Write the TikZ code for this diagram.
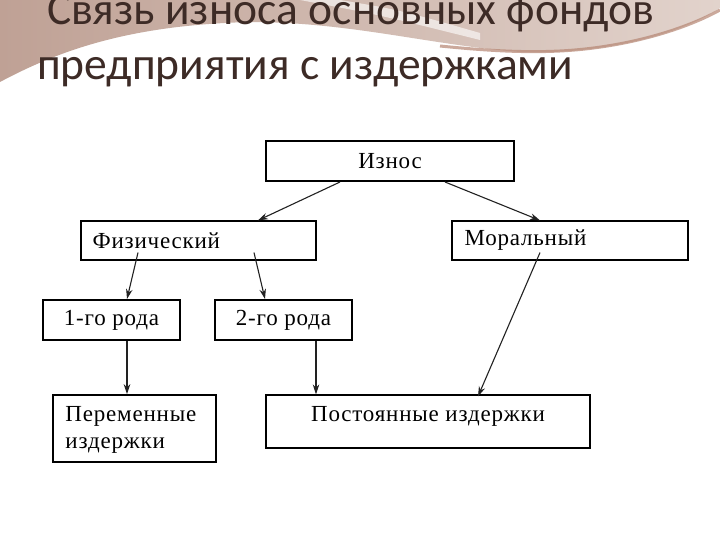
\documentclass[tikz,border=0pt]{standalone}
\usepackage{fontspec}
\setmainfont{Liberation Serif}
\newfontfamily\titlefont{Carlito}
\usetikzlibrary{arrows.meta}
\definecolor{titlecol}{HTML}{3D2B26}
\definecolor{decodark}{HTML}{BFA195}
\definecolor{decolight}{HTML}{E2D3CC}
\definecolor{decoline}{HTML}{B58572}
\definecolor{linecol}{HTML}{222222}
\tikzset{
  box/.style={draw=black, line width=1.2pt, fill=white, inner sep=0pt},
  thickbox/.style={box, line width=2pt},
  lbl/.style={inner sep=0pt, font=\fontsize{23}{27}\selectfont\addfontfeature{LetterSpace=3.5}, align=left},
  arr/.style={draw=linecol, line width=1.1pt, -{Stealth[length=10pt,width=6.5pt]}},
  ttl/.style={inner sep=0pt, anchor=base west, text=titlecol, font=\titlefont\fontsize{45.5}{53}\selectfont}
}
\begin{document}
\begin{tikzpicture}[x=1pt,y=-1pt]
\useasboundingbox (0,0) rectangle (720,540);
\fill[white] (0,0) rectangle (720,540);
% decoration
\shade[left color=decodark, right color=decolight]
  (0,0) -- (0,82) .. controls (60,50) and (130,25) .. (250,22)
  .. controls (350,22) and (430,45) .. (520,52)
  .. controls (600,55) and (680,35) .. (720,8) -- (720,0) -- cycle;
\fill[white, opacity=0.6] (300,0) .. controls (380,15) .. (480,40) -- (480,33) .. controls (400,10) .. (340,0) -- cycle;
\draw[decoline, line width=3pt, opacity=0.7] (440,46) .. controls (480,50) and (520,53) .. (560,51) .. controls (620,48) and (680,32) .. (720,10);
% title
\node[ttl] (t1) at (47,25) {Связь износа основных фондов};
\node[ttl] (t2) at (37,80) {предприятия с издержками};
% boxes
\node[thickbox, minimum width=248pt, minimum height=40pt] (izn) at (390,161) {};
\node[box, minimum width=235pt, minimum height=39pt] (fiz) at (198.5,240.5) {};
\node[box, minimum width=236pt, minimum height=39pt] (mor) at (570,240.5) {};
\node[thickbox, minimum width=137pt, minimum height=40pt] (r1) at (111.5,320) {};
\node[thickbox, minimum width=137pt, minimum height=40pt] (r2) at (283.5,320) {};
\node[box, line width=1.5pt, minimum width=163pt, minimum height=67pt] (per) at (134.5,428.5) {};
\node[box, minimum width=324pt, minimum height=53pt] (post) at (428,421.5) {};
% labels
\node[lbl] (lizn) at (izn.center) {Износ};
\node[lbl, anchor=west] (lfiz) at ([xshift=12pt]fiz.west) {Физический};
\node[lbl, anchor=west] (lmor) at ([xshift=13pt]mor.west) {Моральный};
\node[lbl] (lr1) at (r1.center) {1-го рода};
\node[lbl] (lr2) at (r2.center) {2-го рода};
\node[lbl, anchor=north west] (lper) at ([xshift=13pt,yshift=-12pt]per.north west) {Переменные\\издержки};
\node[lbl, anchor=north] (lpost) at ([yshift=-12pt]post.north) {Постоянные издержки};
% arrows
\draw[arr] ([xshift=-50pt]izn.south) -- ([xshift=59.5pt]fiz.north);
\draw[arr] ([xshift=55pt]izn.south) -- ([xshift=-30pt]mor.north);
\draw[arr] ([xshift=-60.5pt,yshift=8pt]fiz.south) -- ([xshift=15.5pt]r1.north);
\draw[arr] ([xshift=55.5pt,yshift=8pt]fiz.south) -- ([xshift=-18.5pt]r2.north);
\draw[arr] ([xshift=15.5pt]r1.south) -- ([xshift=-7.5pt]per.north);
\draw[arr] ([xshift=32.5pt]r2.south) -- ([xshift=-112pt]post.north);
\draw[arr] ([xshift=-30pt,yshift=8pt]mor.south) -- ([xshift=50pt,yshift=-2pt]post.north);
\end{tikzpicture}
\end{document}
